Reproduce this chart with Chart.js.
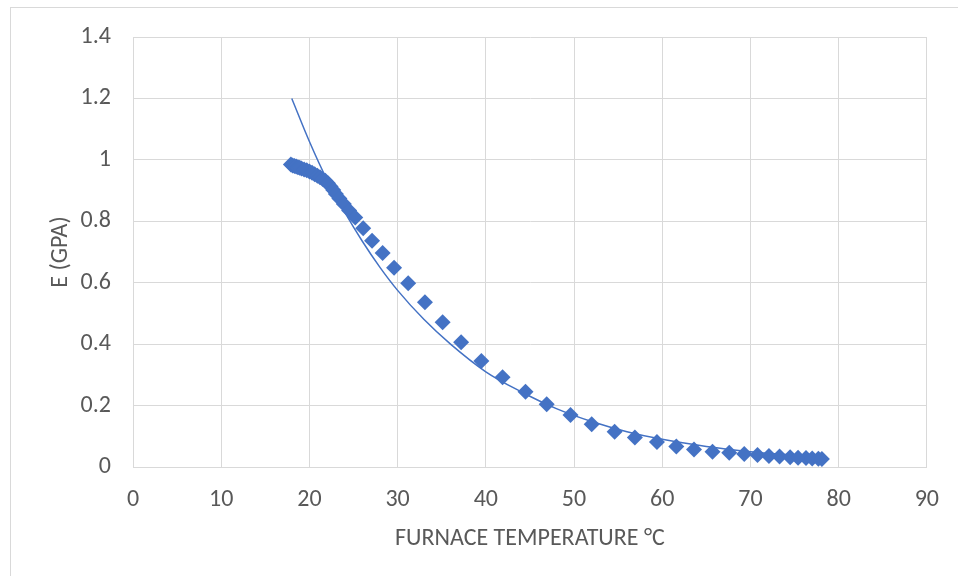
<!DOCTYPE html>
<html>
<head>
<meta charset="utf-8">
<script src="https://cdn.jsdelivr.net/npm/chart.js@4.4.1/dist/chart.umd.min.js"></script>
<style>
  html, body { margin: 0; padding: 0; background: #fff; overflow: hidden; }
  #wrap { position: relative; width: 958px; height: 576px; }
  #frame { position: absolute; left: 10px; top: 7px; width: 1000px; height: 1000px; border: 1px solid #d9d9d9; }
  #chart { position: absolute; left: 0; top: 0; }
</style>
</head>
<body>
<div id="wrap">
  <div id="frame"></div>
  <canvas id="chart" width="958" height="576"></canvas>
</div>
<script>
// Measured points: furnace temperature (°C) and E (GPa)
const tempC = [17.9, 18.1, 18.3, 18.5, 18.7, 18.9, 19.1, 19.4, 19.7, 20.0, 20.3, 20.6, 20.9, 21.2, 21.5, 21.8, 22.1, 22.4, 22.7, 23.0, 23.4, 23.9, 24.5, 25.2,
  26.1, 27.1, 28.3, 29.6, 31.2, 33.1, 35.1, 37.2, 39.5, 41.9, 44.5, 46.9, 49.6, 52.0, 54.6, 56.9, 59.4, 61.6, 63.6, 65.7, 67.6, 69.3, 70.8, 72.1, 73.3, 74.5, 75.4, 76.3, 77.0, 77.7, 78.1];
const modulusGPa = [0.985, 0.982, 0.980, 0.978, 0.976, 0.974, 0.972, 0.969, 0.966, 0.962, 0.958, 0.953, 0.948, 0.943, 0.938, 0.932, 0.924, 0.913, 0.902, 0.889, 0.874, 0.856, 0.835, 0.812,
  0.777, 0.737, 0.697, 0.649, 0.598, 0.536, 0.471, 0.406, 0.345, 0.292, 0.245, 0.204, 0.169, 0.139, 0.115, 0.096, 0.081, 0.067, 0.057, 0.050, 0.046, 0.042, 0.039, 0.036, 0.034, 0.032, 0.030, 0.029, 0.028, 0.027, 0.026];

// Trendline
const trendX = [18, 20, 22, 24, 26, 28, 30, 33, 36, 40, 44, 48, 52, 56, 60, 65, 70, 75, 78];
const trendY = [1.20, 1.06, 0.935, 0.83, 0.735, 0.65, 0.575, 0.48, 0.40, 0.31, 0.245, 0.19, 0.148, 0.115, 0.09, 0.067, 0.05, 0.038, 0.031];

const xTicks = [0, 10, 20, 30, 40, 50, 60, 70, 80, 90];
const yTicks = [0, 0.2, 0.4, 0.6, 0.8, 1, 1.2, 1.4];

const blue = '#4472C4';
const gridColor = '#d9d9d9';
const textColor = '#595959';
const fontFamily = "Carlito, 'Open Sans', sans-serif";
const fontSize = 24;

const points = tempC.map((t, i) => ({ x: t, y: modulusGPa[i] }));
const trend = trendX.map((t, i) => ({ x: t, y: trendY[i] }));

const config = {
  type: 'scatter',
  data: {
    datasets: [{
      label: 'E',
      data: points,
      pointStyle: 'rectRot',
      pointRadius: 8,
      backgroundColor: blue,
      borderColor: blue,
      borderWidth: 0,
      order: 1
    }, {
      type: 'line',
      label: 'Trend',
      data: trend,
      borderColor: blue,
      borderWidth: 1.5,
      pointRadius: 0,
      fill: false,
      cubicInterpolationMode: 'monotone',
      order: 2
    }]
  },
  options: {
    responsive: false,
    animation: false,
    layout: { padding: { left: 0, right: 30, top: 37, bottom: 0 } },
    plugins: {
      legend: { display: false },
      tooltip: { enabled: false }
    },
    scales: {
      x: {
        type: 'linear',
        min: 0,
        max: 90,
        afterFit: s => { s.height = 109; },
        afterBuildTicks: s => { s.ticks = xTicks.map(v => ({ value: v })); },
        grid: { color: gridColor, drawTicks: false },
        border: { color: gridColor },
        ticks: { color: textColor, padding: 19, font: { family: fontFamily, size: fontSize }, callback: v => String(v) },
        title: {
          display: true,
          text: 'FURNACE TEMPERATURE °C',
          color: textColor,
          font: { family: fontFamily, size: fontSize },
          padding: { top: 0, bottom: 23 }
        }
      },
      y: {
        type: 'linear',
        min: 0,
        max: 1.4,
        afterFit: s => { s.width = 133; },
        afterBuildTicks: s => { s.ticks = yTicks.map(v => ({ value: v })); },
        grid: { color: gridColor, drawTicks: false },
        border: { color: gridColor },
        ticks: { color: textColor, padding: 22, font: { family: fontFamily, size: fontSize }, callback: v => String(Math.round(v * 10) / 10) },
        title: {
          display: true,
          text: 'E (GPA)',
          color: textColor,
          font: { family: fontFamily, size: fontSize },
          padding: { top: 47, bottom: 0 }
        }
      }
    }
  }
};

new Chart(document.getElementById('chart'), config);
</script>
</body>
</html>
